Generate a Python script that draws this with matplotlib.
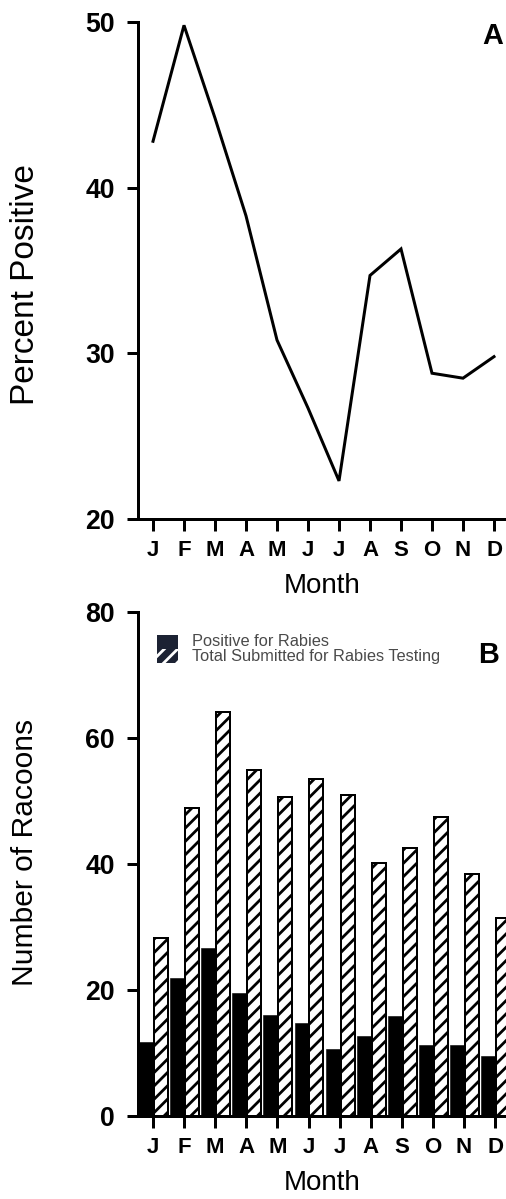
import matplotlib
matplotlib.use("Agg")
import matplotlib.pyplot as plt
from matplotlib.patches import Rectangle
import numpy as np

# dane
months = ["J", "F", "M", "A", "M", "J", "J", "A", "S", "O", "N", "D"]
percent_positive = [42.8, 49.8, 44.2, 38.3, 30.8, 26.7, 22.3, 34.7, 36.3, 28.8, 28.5, 29.8]
positive = [11.8, 21.9, 26.7, 19.6, 16.0, 14.8, 10.6, 12.7, 15.8, 11.3, 11.3, 9.6]
submitted = [28.2, 48.9, 64.1, 55.0, 50.6, 53.5, 51.0, 40.1, 42.5, 47.4, 38.4, 31.5]

plt.rcParams["font.family"] = ["Liberation Sans", "DejaVu Sans"]
plt.rcParams["hatch.linewidth"] = 2.5

# dpi 80, zeby gestosc kreskowania pasowala do oryginalu
DPI = 80
W, H = 506, 1199
fig = plt.figure(figsize=(W / DPI, H / DPI), dpi=DPI)

def fx(px):
    return px / W

def fy(py):
    return 1 - py / H

def ax_h_px(ax):
    return ax.get_position().height * H

def style_axes(ax, ylabel, ysize, ycenter):
    for s in ["top", "right"]:
        ax.spines[s].set_visible(False)
    for s in ["left", "bottom"]:
        ax.spines[s].set_linewidth(2.7)
    ax.tick_params(axis="both", width=2.7, direction="out")
    ax.tick_params(axis="x", length=10.8, pad=8.5, labelsize=20)
    ax.tick_params(axis="y", length=10, pad=10.8, labelsize=24)
    for lab in ax.get_xticklabels() + ax.get_yticklabels():
        lab.set_fontweight("bold")
    ax.set_xlabel("Month", fontsize=25, va="center")
    ax.xaxis.set_label_coords(0.5, -67 / ax_h_px(ax))
    ax.set_ylabel(ylabel, fontsize=ysize, va="center")
    ax.yaxis.set_label_coords((25 - 138) / (W - 138), ycenter)

x = np.arange(len(months))

# 1) Panel A - procent pozytywnych
axA = fig.add_axes([fx(138), fy(519), 1 - fx(138), (519 - 22) / H])
axA.plot(x, percent_positive, color="black", lw=2.7, solid_joinstyle="miter")
axA.set_xlim(-0.484, 11.387)
axA.set_ylim(20, 50)
axA.set_yticks([20, 30, 40, 50])
axA.set_xticks(x)
axA.set_xticklabels(months)
style_axes(axA, "Percent Positive", 30, (519 - 285) / (519 - 22))
fig.text(fx(493), fy(36), "A", fontsize=26, fontweight="bold", ha="center", va="center")

# 2) Panel B - liczba szopow
axB = fig.add_axes([fx(138), fy(1116), 1 - fx(138), (1116 - 612) / H])
bw = 0.45
axB.bar(x - bw, positive, width=bw, align="edge", color="black", edgecolor="black", lw=0.5)
axB.bar(x + 0.03, submitted, width=bw, align="edge", color="white", edgecolor="black",
        lw=1.8, hatch="//")
axB.set_xlim(-0.482, 11.35)
axB.set_ylim(0, 80)
axB.set_yticks([0, 20, 40, 60, 80])
axB.set_xticks(x)
axB.set_xticklabels(months)
style_axes(axB, "Number of Racoons", 27, (1116 - 852) / (1116 - 612))
fig.text(fx(489), fy(655), "B", fontsize=26, fontweight="bold", ha="center", va="center")

# legenda rysowana recznie
fig.patches.append(Rectangle((fx(157), fy(649)), fx(178) - fx(157), fy(635) - fy(649),
                             transform=fig.transFigure, facecolor="#1c2233", lw=0))
fig.patches.append(Rectangle((fx(157), fy(663)), fx(178) - fx(157), fy(649) - fy(663),
                             transform=fig.transFigure, facecolor="#1c2233",
                             edgecolor="white", hatch="//", lw=0))
fig.text(fx(192), fy(642), "Positive for Rabies", fontsize=14.7, color="#4a4a4a", va="center")
fig.text(fx(192), fy(657), "Total Submitted for Rabies Testing", fontsize=14.7,
         color="#4a4a4a", va="center")

fig.savefig("out.png", dpi=DPI)
